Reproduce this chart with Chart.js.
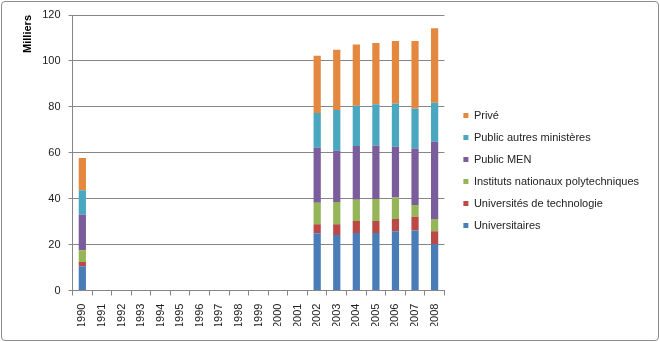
<!DOCTYPE html>
<html>
<head>
<meta charset="utf-8">
<script src="https://cdn.jsdelivr.net/npm/chart.js@4"></script>
<style>
    body { margin: 0; background: #fff; }
    #wrap { position: relative; width: 660px; height: 342px; }
    #frame {
        position: absolute; left: 1px; top: 1px; width: 656px; height: 338px;
        border: 1px solid #8c8c8c; border-radius: 4px; pointer-events: none;
    }
</style>
</head>
<body>
<div id="wrap">
    <canvas id="chart" width="660" height="342"></canvas>
    <div id="frame"></div>
</div>
<script>
// Data (milliers)
const years = ["1990", "1991", "1992", "1993", "1994", "1995", "1996", "1997", "1998", "1999",
    "2000", "2001", "2002", "2003", "2004", "2005", "2006", "2007", "2008"];
const gap = [null, null, null, null, null, null, null, null, null, null, null];

const universitaires = [10.6, ...gap, 25.0, 24.2, 25.1, 25.1, 25.8, 26.1, 20.2];
const univTechno = [1.8, ...gap, 3.9, 4.7, 5.2, 5.2, 5.3, 6.0, 5.6];
const instituts = [5.1, ...gap, 9.3, 9.7, 9.2, 9.6, 9.4, 5.2, 5.3];
const publicMen = [15.5, ...gap, 24.0, 22.3, 23.5, 23.3, 22.1, 24.6, 33.7];
const publicAutres = [10.7, ...gap, 15.1, 17.7, 17.5, 17.9, 18.9, 17.4, 17.0];
const prive = [14.0, ...gap, 25.0, 26.3, 26.6, 26.7, 27.2, 29.4, 32.4];

const yTicks = [0, 20, 40, 60, 80, 100, 120];

const gridColor = "#868686";
const textColor = "#222";

Chart.defaults.font.family = "'Liberation Sans', Arial, sans-serif";
Chart.defaults.font.size = 11;
Chart.defaults.color = textColor;

function series(label, data, color) {
    return {
        label: label,
        data: data,
        backgroundColor: color,
        borderWidth: 0,
        categoryPercentage: 1,
        barPercentage: 0.37,
    };
}

const ctx = document.getElementById("chart").getContext("2d");
const chart = new Chart(ctx, {
    type: "bar",
    data: {
        labels: years,
        datasets: [
            series("Universitaires", universitaires, "#4a7db8"),
            series("Universités de technologie", univTechno, "#bb4a47"),
            series("Instituts nationaux polytechniques", instituts, "#95b558"),
            series("Public MEN", publicMen, "#7b5d9c"),
            series("Public autres ministères", publicAutres, "#4aa7c0"),
            series("Privé", prive, "#e5883f"),
        ],
    },
    options: {
        responsive: false,
        animation: false,
        layout: {
            padding: { left: 11, right: 11, top: 15, bottom: 16 },
        },
        plugins: {
            tooltip: { enabled: false },
            legend: {
                position: "right",
                reverse: true,
                maxWidth: 260,
                labels: {
                    boxWidth: 5,
                    boxHeight: 5,
                    padding: 11,
                    color: textColor,
                },
            },
        },
        scales: {
            x: {
                stacked: true,
                grid: {
                    drawOnChartArea: false,
                    drawTicks: true,
                    tickLength: 5,
                    color: gridColor,
                },
                border: { color: gridColor },
                ticks: {
                    minRotation: 90,
                    maxRotation: 90,
                    padding: 8,
                    color: textColor,
                    autoSkip: false,
                },
                // labels may run into the bottom padding
                afterFit: (scale) => {
                    scale.height = scale.height - 10;
                },
            },
            y: {
                stacked: true,
                min: 0,
                max: 120,
                afterBuildTicks: (scale) => {
                    scale.ticks = yTicks.map((v) => ({ value: v }));
                },
                grid: {
                    color: gridColor,
                    tickLength: 4,
                },
                border: { color: gridColor },
                ticks: {
                    padding: 8,
                    color: textColor,
                },
                title: {
                    display: true,
                    text: "Milliers",
                    align: "end",
                    color: "#000",
                    font: { weight: "bold", size: 11 },
                    padding: { top: 10, bottom: 0 },
                },
            },
            // empty spacer between the plot and the legend
            spacer: {
                axis: "y",
                position: "right",
                display: true,
                grid: { display: false },
                border: { display: false },
                ticks: { display: false },
                afterFit: (scale) => {
                    scale.width = 8;
                },
            },
        },
    },
});
</script>
</body>
</html>
